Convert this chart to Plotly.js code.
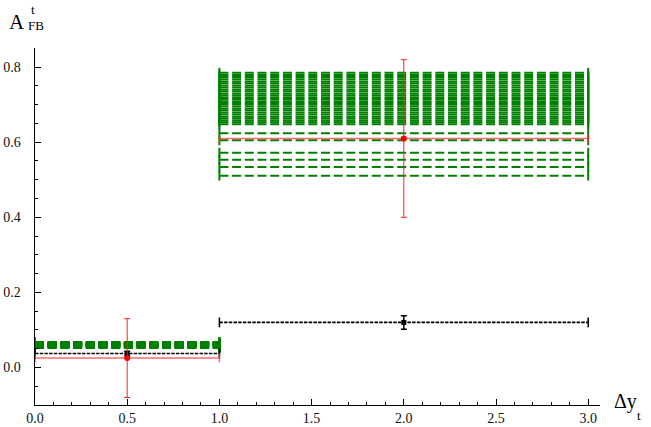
<!DOCTYPE html>
<html>
<head>
<meta charset="utf-8">
<script src="https://cdn.plot.ly/plotly-3.0.1.min.js"></script>
<style>html,body{margin:0;padding:0;background:#fff;}#chart{width:651px;height:427px;}</style>
</head>
<body>
<div id="chart"></div>
<script>
// Bin edges (Δy_t)
const binLo = [0, 1];
const binHi = [1, 3];
const binCenter = [0.5, 2];

// Y tick labels
const yTickVals = [0, 0.2, 0.4, 0.6, 0.8];
const yTickText = ['0.0', '0.2', '0.4', '0.6', '0.8'];

// Green model predictions (one dashed line per model point), bin 1 and bin 2
const greenBin1 = [0.052, 0.053, 0.054, 0.055, 0.0555, 0.056, 0.0565, 0.057, 0.0575, 0.058, 0.0585, 0.059,
                   0.0595, 0.060, 0.0605, 0.061, 0.0615, 0.062, 0.0625, 0.063, 0.0635, 0.064, 0.0645, 0.065,
                   0.0655, 0.066, 0.0665, 0.067, 0.068];
const greenBin2 = [0.785, 0.779, 0.774, 0.768, 0.762, 0.757, 0.751, 0.746, 0.740, 0.735, 0.729, 0.724,
                   0.718, 0.713, 0.707, 0.702, 0.696, 0.690, 0.685, 0.679, 0.674, 0.668, 0.663, 0.658,
                   0.653, 0.648, 0.624, 0.605, 0.572, 0.553, 0.534, 0.511];

// Measurement (red) and SM prediction (black)
const redVal = [0.025, 0.61];
const redErr = [0.105, 0.21];
const blackVal = [0.037, 0.12];
const blackErr = [0.006, 0.018];

const GREEN = '#008000';
const traces = [];

function stepLine(bin, v, color, width, dash, capSize) {
  return {
    x: [binLo[bin], binHi[bin]],
    y: [v, v],
    mode: 'lines+markers',
    line: {color: color, width: width, dash: dash},
    marker: {symbol: 'line-ns', size: capSize, color: color, line: {color: color, width: width}},
    hoverinfo: 'skip',
    showlegend: false
  };
}

greenBin1.forEach(v => traces.push(stepLine(0, v, GREEN, 2, '9px,3.7px', 7)));
greenBin2.forEach(v => traces.push(stepLine(1, v, GREEN, 2, '9px,3.7px', 7)));

// SM (black) dashed lines + points
for (let i = 0; i < 2; i++) traces.push(stepLine(i, blackVal[i], '#000', 1.6, '3.5px,1.2px', 7));
traces.push({
  x: binCenter, y: blackVal, mode: 'markers',
  marker: {symbol: 'square', size: 5, color: '#000'},
  error_y: {type: 'data', array: blackErr, visible: true, color: '#000', thickness: 1.5, width: 3},
  hoverinfo: 'skip', showlegend: false
});

// Measurement (red)
for (let i = 0; i < 2; i++) traces.push(stepLine(i, redVal[i], 'rgba(255,60,60,0.75)', 1.5, 'solid', 6));
traces.push({
  x: binCenter, y: redVal, mode: 'markers',
  marker: {symbol: 'circle', size: 6, color: '#ff0000'},
  error_y: {type: 'data', array: redErr, visible: true, color: '#ff2020', thickness: 1, width: 3},
  hoverinfo: 'skip', showlegend: false
});

const serif = 'Liberation Serif';
const layout = {
  width: 651, height: 427,
  margin: {l: 35, r: 51, t: 48, b: 22},
  paper_bgcolor: '#fff', plot_bgcolor: '#fff',
  showlegend: false, hovermode: false,
  font: {family: serif, size: 13, color: '#000'},
  xaxis: {
    range: [0, 3.064], showgrid: false, zeroline: false,
    showline: true, linecolor: '#000', linewidth: 1,
    ticks: 'inside', ticklen: 6, tickwidth: 1, tickcolor: '#000',
    tick0: 0, dtick: 0.5, tickformat: '.1f',
    minor: {dtick: 0.1, ticks: 'inside', ticklen: 3, tickcolor: '#000', showgrid: false},
    tickfont: {family: serif, size: 14, color: '#111'}
  },
  yaxis: {
    range: [-0.1, 0.851], showgrid: false, zeroline: false,
    showline: true, linecolor: '#000', linewidth: 1,
    ticks: 'inside', ticklen: 6, tickwidth: 1, tickcolor: '#000',
    tickmode: 'array', tickvals: yTickVals, ticktext: yTickText.map(t => t + '\u00a0\u00a0\u00a0'),
    minor: {tickmode: 'linear', tick0: 0, dtick: 0.05, ticks: 'inside', ticklen: 3, tickcolor: '#000', showgrid: false},
    tickfont: {family: serif, size: 14, color: '#111'}
  },
  annotations: [
    {xref: 'paper', yref: 'paper', x: -0.05, y: 1.074, xanchor: 'left', yanchor: 'middle',
     text: 'A', showarrow: false, font: {family: serif, size: 21, color: '#000'}},
    {xref: 'paper', yref: 'paper', x: -0.011, y: 1.108, xanchor: 'left', yanchor: 'middle',
     text: 't', showarrow: false, font: {family: serif, size: 13, color: '#000'}},
    {xref: 'paper', yref: 'paper', x: -0.016, y: 1.062, xanchor: 'left', yanchor: 'middle',
     text: 'FB', showarrow: false, font: {family: serif, size: 13, color: '#000'}},
    {xref: 'paper', yref: 'paper', x: 1.021, y: 0.01, xanchor: 'left', yanchor: 'middle',
     text: 'Δy', showarrow: false, font: {family: serif, size: 20, color: '#000'}},
    {xref: 'paper', yref: 'paper', x: 1.062, y: -0.03, xanchor: 'left', yanchor: 'middle',
     text: 't', showarrow: false, font: {family: serif, size: 13, color: '#000'}}
  ]
};

Plotly.newPlot('chart', traces, layout, {displayModeBar: false, staticPlot: true});
</script>
</body>
</html>
